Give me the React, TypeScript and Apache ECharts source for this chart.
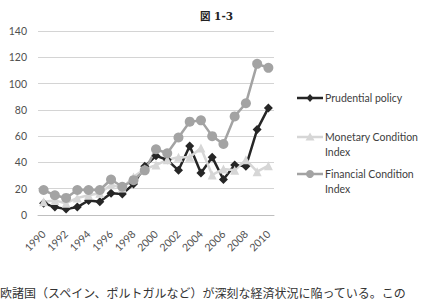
import React, { useEffect, useRef } from "react";
import * as echarts from "echarts";

const years = [
  "1990", "1991", "1992", "1993", "1994", "1995", "1996", "1997", "1998", "1999",
  "2000", "2001", "2002", "2003", "2004", "2005", "2006", "2007", "2008", "2009", "2010",
];
const prudential = [9, 6, 4.5, 6, 11, 10, 16.5, 16, 23.5, 37, 45, 42, 34, 52.5, 32, 44, 27, 38, 37, 65, 81.5];
const monetary = [10, 11, 9, 13, 15, 16.5, 23, 20.5, 29, 35, 38, 42, 44, 44, 51, 30.5, 35, 34, 42, 33, 37.5];
const financial = [19, 15, 13, 19, 19, 19, 27, 21.5, 26.5, 34, 50, 47, 59, 71, 72, 60, 54, 75, 85, 115, 112];
const seriesNames = ["Prudential policy", "Monetary Condition Index", "Financial Condition Index"];
const legendLines = [["Prudential policy"], ["Monetary Condition", "Index"], ["Financial Condition", "Index"]];

const colors = ["#262626", "#d6d6d6", "#a3a3a3"];
const symbols = ["diamond", "triangle", "circle"];
const symbolSizes = [9, 9, 10];
const font = "Lato, 'Open Sans', sans-serif";

function legendMarker(kind: string, cx: number, cy: number, color: string) {
  if (kind === "circle") {
    return { type: "circle", shape: { cx, cy, r: 4 }, style: { fill: color } };
  }
  if (kind === "triangle") {
    return {
      type: "polygon",
      shape: { points: [[cx, cy - 4.5], [cx + 4.5, cy + 3.5], [cx - 4.5, cy + 3.5]] },
      style: { fill: color },
    };
  }
  return {
    type: "polygon",
    shape: { points: [[cx, cy - 4], [cx + 3.5, cy], [cx, cy + 4], [cx - 3.5, cy]] },
    style: { fill: color },
  };
}

export default function App() {
  const ref = useRef<HTMLDivElement>(null);

  useEffect(() => {
    if (!ref.current) return;
    const chart = echarts.init(ref.current, null, { renderer: "svg" });

    const legendY = [98, 137, 174];
    const legendGraphics: any[] = [];
    legendLines.forEach((lines, i) => {
      const y = legendY[i];
      legendGraphics.push({
        type: "line",
        shape: { x1: 297, y1: y, x2: 323, y2: y },
        style: { stroke: colors[i], lineWidth: 2.5 },
      });
      legendGraphics.push(legendMarker(symbols[i], 310, y, colors[i]));
      lines.forEach((t, j) => {
        legendGraphics.push({
          type: "text",
          x: 325,
          y: y + j * 15,
          style: {
            text: t,
            fill: "#404040",
            font: `10.5px ${font}`,
            textVerticalAlign: "middle",
            verticalAlign: "middle",
          },
        });
      });
    });

    chart.setOption({
      animation: false,
      title: {
        text: "図 1-3",
        left: "center",
        top: 6,
        textStyle: {
          fontSize: 10.5,
          fontWeight: "bold",
          color: "#222",
          fontFamily: "'DejaVu Serif', 'Noto Sans CJK JP', serif",
        },
      },
      grid: { left: 38, right: 159, top: 31, bottom: 84, containLabel: false },
      xAxis: {
        type: "category",
        data: years,
        boundaryGap: true,
        axisLine: { show: true, lineStyle: { color: "#bfbfbf", width: 1 } },
        axisTick: { show: false },
        axisLabel: {
          interval: 1,
          rotate: 45,
          margin: 17,
          color: "#505050",
          fontSize: 10.5,
          fontFamily: font,
        },
      },
      yAxis: {
        type: "value",
        min: 0,
        max: 140,
        interval: 20,
        axisLine: { show: false },
        axisTick: { show: false },
        axisLabel: { color: "#505050", fontSize: 10.5, fontFamily: font, margin: 11 },
        splitLine: { lineStyle: { color: "#d4d4d4", width: 1 } },
      },
      series: [prudential, monetary, financial].map((d, i) => ({
        name: seriesNames[i],
        type: "line",
        data: d,
        symbol: symbols[i],
        symbolSize: symbolSizes[i],
        showSymbol: true,
        showAllSymbol: true,
        lineStyle: { color: colors[i], width: 2.5 },
        itemStyle: { color: colors[i] },
      })),
      graphic: [
        ...legendGraphics,
        {
          type: "text",
          x: 0,
          y: 298,
          style: {
            text: "欧諸国（スペイン、ポルトガルなど）が深刻な経済状況に陥っている。この",
            fill: "#333",
            font: "12px 'Noto Sans CJK JP', sans-serif",
            textVerticalAlign: "bottom",
            verticalAlign: "bottom",
          },
        },
      ],
    });

    return () => chart.dispose();
  }, []);

  return (
    <div
      ref={ref}
      style={{ position: "fixed", left: 0, top: 0, width: 433, height: 299, background: "#fff" }}
    />
  );
}
